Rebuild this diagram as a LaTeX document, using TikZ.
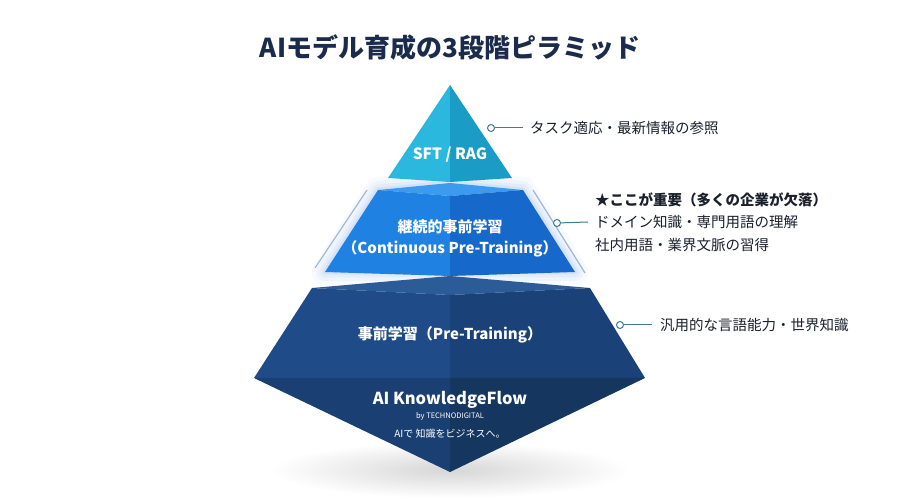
\documentclass[tikz,border=0pt]{standalone}
\usepackage{fontspec}
\setmainfont{Noto Sans CJK JP}
\usetikzlibrary{calc}
\definecolor{titlec}{HTML}{1B2B4B}
\definecolor{txtc}{HTML}{1A202C}
\definecolor{linec}{HTML}{3E7C8E}
\definecolor{topL}{HTML}{2BB8DE}
\definecolor{topR}{HTML}{1A9CC7}
\definecolor{midTop}{HTML}{3C9BEE}
\definecolor{midL}{HTML}{1F82E2}
\definecolor{midR}{HTML}{1668CB}
\definecolor{botTop}{HTML}{2C5C98}
\definecolor{botL}{HTML}{1F4C88}
\definecolor{botR}{HTML}{1A4278}
\definecolor{lowL}{HTML}{1A3F72}
\definecolor{lowR}{HTML}{15365F}
\definecolor{glowc}{HTML}{8FB8EE}
\definecolor{sidec}{HTML}{9DB7D6}
\tikzset{
  dot/.style={circle,draw=linec,fill=white,line width=1pt,minimum size=7pt,inner sep=0pt},
  conn/.style={draw=linec,line width=1pt},
  note/.style={anchor=west,inner sep=0pt,text=txtc,font=\fontsize{14.5}{22.5}\selectfont,align=left},
  tiertext/.style={text=white,inner sep=0pt,align=center},
  sideline/.style={draw=sidec,line width=1.2pt}
}
\begin{document}
\begin{tikzpicture}[x=1pt,y=-1pt]
\useasboundingbox (0,0) rectangle (900,502);
\fill[white] (0,0) rectangle (900,502);
% shadow
\shade[inner color=black!16,outer color=white] (450,470) ellipse [x radius=180,y radius=28];
% title
\node[text=titlec,font=\fontsize{26}{30}\selectfont\bfseries] (title) at (450,48) {AIモデル育成の3段階ピラミッド};
% middle glow (behind)
\foreach \w/\o in {26/0.06,18/0.08,11/0.12,5/0.18}{
  \draw[glowc,line width=\w pt,opacity=\o,line join=round] (378,190) -- (450,183) -- (523,190) -- (575,272) -- (325,272) -- cycle;
}
% bottom tier
\fill[botTop] (312,288) -- (450,276) -- (590,288) -- (450,295) -- cycle;
\fill[botL] (312,288) -- (450,295) -- (450,378) -- (254,378) -- cycle;
\fill[botR] (590,288) -- (450,295) -- (450,378) -- (645,378) -- cycle;
\fill[lowL] (254,378) -- (450,378) -- (450,472) -- cycle;
\fill[lowR] (645,378) -- (450,378) -- (450,472) -- cycle;
% middle tier
\fill[midTop] (378,190) -- (450,183) -- (523,190) -- (450,196) -- cycle;
\fill[midL] (378,190) -- (450,196) -- (450,276) -- (325,272) -- cycle;
\fill[midR] (523,190) -- (450,196) -- (450,276) -- (575,272) -- cycle;
% side lines
\draw[sideline] (367,190) -- (315,268);
\draw[sideline] (533,190) -- (585,273);
% top tier
\fill[topL] (450,85) -- (388,178) -- (450,182) -- cycle;
\fill[topR] (450,85) -- (512,178) -- (450,182) -- cycle;
% tier texts
\node[tiertext,font=\fontsize{15.5}{18}\selectfont\bfseries] (t1) at (450,155) {SFT / RAG};
\node[tiertext,font=\fontsize{15}{21}\selectfont\bfseries] (t2) at (450,238) {継続的事前学習\\（Continuous Pre-Training）};
\node[tiertext,font=\fontsize{15}{18}\selectfont\bfseries] (t3) at (450,335) {事前学習（Pre-Training）};
\node[tiertext,font=\fontsize{16.5}{20}\selectfont\bfseries] (b1) at (450,400) {AI KnowledgeFlow};
\node[tiertext,font=\fontsize{7.5}{9}\selectfont] (b2) at (450,416) {by TECHNODIGITAL};
\node[tiertext,font=\fontsize{10}{12}\selectfont] (b3) at (450,434) {AIで 知識をビジネスへ。};
% annotations
\node[dot] (d1) at (491,128) {};
\node[note] (n1) at (530,128) {タスク適応・最新情報の参照};
\draw[conn] (d1) -- ([xshift=-7pt]n1.west);
\node[dot] (d2) at (557,223) {};
\node[note] (n2) at (595,222) {\textbf{★ここが重要（多くの企業が欠落）}\\ドメイン知識・専門用語の理解\\社内用語・業界文脈の習得};
\draw[conn] (d2) -- ([xshift=-7pt]n2.west);
\node[dot] (d3) at (620,325) {};
\node[note] (n3) at (660,325) {汎用的な言語能力・世界知識};
\draw[conn] (d3) -- ([xshift=-8pt]n3.west);
\end{tikzpicture}
\end{document}
